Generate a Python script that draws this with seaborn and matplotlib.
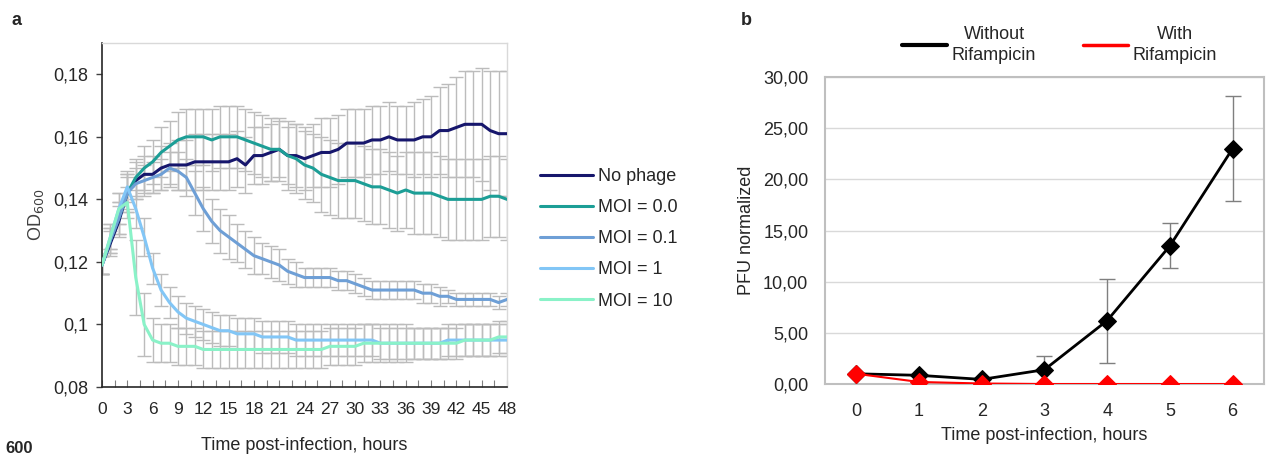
import numpy as np
import pandas as pd
import matplotlib
matplotlib.use("Agg")
import matplotlib.pyplot as plt
import seaborn as sns
from matplotlib.lines import Line2D
from matplotlib.ticker import MultipleLocator

# ---- panel a: OD600 over 48 h (hourly readings) ----
hours = list(range(49))

od_no_phage = [0.119, 0.126, 0.133, 0.142, 0.146, 0.148, 0.148, 0.150, 0.151, 0.151,
               0.151, 0.152, 0.152, 0.152, 0.152, 0.152, 0.153, 0.151, 0.154, 0.154,
               0.155, 0.156, 0.154, 0.154, 0.153, 0.154, 0.155, 0.155, 0.156, 0.158,
               0.158, 0.158, 0.159, 0.159, 0.160, 0.159, 0.159, 0.159, 0.160, 0.160,
               0.162, 0.162, 0.163, 0.164, 0.164, 0.164, 0.162, 0.161, 0.161]
od_moi_00 = [0.119, 0.127, 0.134, 0.142, 0.147, 0.150, 0.152, 0.155, 0.157, 0.159,
             0.160, 0.160, 0.160, 0.159, 0.160, 0.160, 0.160, 0.159, 0.158, 0.157,
             0.156, 0.156, 0.154, 0.153, 0.151, 0.150, 0.148, 0.147, 0.146, 0.146,
             0.146, 0.145, 0.144, 0.144, 0.143, 0.142, 0.143, 0.142, 0.142, 0.142,
             0.141, 0.140, 0.140, 0.140, 0.140, 0.140, 0.141, 0.141, 0.140]
od_moi_01 = [0.119, 0.127, 0.134, 0.142, 0.145, 0.146, 0.147, 0.148, 0.150, 0.149,
             0.147, 0.142, 0.137, 0.133, 0.130, 0.128, 0.126, 0.124, 0.122, 0.121,
             0.120, 0.119, 0.117, 0.116, 0.115, 0.115, 0.115, 0.115, 0.114, 0.114,
             0.113, 0.112, 0.111, 0.111, 0.111, 0.111, 0.111, 0.111, 0.110, 0.110,
             0.109, 0.109, 0.108, 0.108, 0.108, 0.108, 0.108, 0.107, 0.108]
od_moi_1 = [0.119, 0.128, 0.137, 0.144, 0.137, 0.128, 0.118, 0.111, 0.107, 0.104,
            0.102, 0.101, 0.100, 0.099, 0.098, 0.098, 0.097, 0.097, 0.097, 0.096,
            0.096, 0.096, 0.096, 0.095, 0.095, 0.095, 0.095, 0.095, 0.095, 0.095,
            0.095, 0.095, 0.095, 0.094, 0.094, 0.094, 0.094, 0.094, 0.094, 0.094,
            0.094, 0.095, 0.095, 0.095, 0.095, 0.095, 0.095, 0.095, 0.095]
od_moi_10 = [0.119, 0.128, 0.137, 0.139, 0.115, 0.100, 0.095, 0.094, 0.094, 0.093,
             0.093, 0.093, 0.092, 0.092, 0.092, 0.092, 0.092, 0.092, 0.092, 0.092,
             0.092, 0.092, 0.092, 0.092, 0.092, 0.092, 0.092, 0.093, 0.093, 0.093,
             0.093, 0.094, 0.094, 0.094, 0.094, 0.094, 0.094, 0.094, 0.094, 0.094,
             0.094, 0.094, 0.094, 0.095, 0.095, 0.095, 0.095, 0.096, 0.096]

err_no_phage = [0.003, 0.004, 0.005, 0.006, 0.006, 0.006, 0.006, 0.007, 0.007, 0.008,
                0.008, 0.009, 0.009, 0.009, 0.009, 0.009, 0.009, 0.009, 0.009, 0.009,
                0.009, 0.009, 0.009, 0.010, 0.010, 0.010, 0.011, 0.011, 0.011, 0.011,
                0.011, 0.011, 0.011, 0.011, 0.011, 0.011, 0.011, 0.012, 0.012, 0.013,
                0.014, 0.015, 0.016, 0.017, 0.017, 0.018, 0.019, 0.020, 0.020]
err_moi_00 = [0.003, 0.004, 0.005, 0.006, 0.006, 0.007, 0.007, 0.008, 0.008, 0.009,
              0.009, 0.009, 0.009, 0.010, 0.010, 0.010, 0.010, 0.010, 0.010, 0.010,
              0.010, 0.010, 0.011, 0.011, 0.011, 0.011, 0.012, 0.012, 0.012, 0.012,
              0.012, 0.012, 0.012, 0.012, 0.012, 0.012, 0.012, 0.013, 0.013, 0.013,
              0.013, 0.013, 0.013, 0.013, 0.013, 0.013, 0.013, 0.013, 0.013]
err_moi_01 = [0.003, 0.004, 0.005, 0.005, 0.005, 0.005, 0.005, 0.005, 0.005, 0.006,
              0.006, 0.007, 0.007, 0.007, 0.007, 0.007, 0.006, 0.006, 0.006, 0.005,
              0.005, 0.005, 0.004, 0.004, 0.003, 0.003, 0.003, 0.003, 0.003, 0.003,
              0.003, 0.003, 0.003, 0.003, 0.003, 0.003, 0.003, 0.003, 0.003, 0.003,
              0.003, 0.002, 0.002, 0.002, 0.002, 0.002, 0.002, 0.002, 0.002]
err_moi_1 = [0.003, 0.004, 0.005, 0.005, 0.006, 0.006, 0.005, 0.005, 0.005, 0.005,
             0.005, 0.005, 0.005, 0.005, 0.005, 0.005, 0.005, 0.005, 0.005, 0.005,
             0.005, 0.005, 0.005, 0.005, 0.005, 0.005, 0.005, 0.005, 0.005, 0.005,
             0.005, 0.005, 0.005, 0.005, 0.005, 0.005, 0.005, 0.005, 0.005, 0.005,
             0.005, 0.005, 0.005, 0.005, 0.005, 0.005, 0.005, 0.005, 0.005]
err_moi_10 = [0.003, 0.004, 0.005, 0.005, 0.012, 0.010, 0.007, 0.006, 0.006, 0.006,
              0.006, 0.006, 0.006, 0.006, 0.006, 0.006, 0.006, 0.006, 0.006, 0.006,
              0.006, 0.006, 0.006, 0.006, 0.006, 0.006, 0.006, 0.006, 0.006, 0.006,
              0.006, 0.006, 0.006, 0.006, 0.006, 0.006, 0.006, 0.005, 0.005, 0.005,
              0.005, 0.005, 0.005, 0.005, 0.005, 0.005, 0.005, 0.005, 0.005]

series_a = ["No phage", "MOI = 0.0", "MOI = 0.1", "MOI = 1", "MOI = 10"]
colors_a = ["#16166c", "#1c9e96", "#6e9fd6", "#82c6f6", "#8af2c8"]
yticks_a = [0.08, 0.10, 0.12, 0.14, 0.16, 0.18]
ylabels_a = ["0,08", "0,1", "0,12", "0,14", "0,16", "0,18"]

# ---- panel b: PFU ----
hours_b = [0, 1, 2, 3, 4, 5, 6]
pfu_without = [1.00, 0.85, 0.45, 1.40, 6.20, 13.50, 23.00]
pfu_without_err = [0.0, 0.0, 0.0, 1.35, 4.10, 2.20, 5.10]
pfu_with = [1.00, 0.20, 0.05, 0.00, 0.00, 0.00, 0.00]
series_b = ["Without\nRifampicin", "With\nRifampicin"]
colors_b = ["#000000", "#ff0000"]
yticks_b = [0, 5, 10, 15, 20, 25, 30]
ylabels_b = ["0,00", "5,00", "10,00", "15,00", "20,00", "25,00", "30,00"]

sns.set_theme(style="white")
plt.rcParams["font.family"] = ["Liberation Sans", "DejaVu Sans"]
plt.rcParams["font.size"] = 13

fig = plt.figure(figsize=(12.67, 4.57), dpi=100)
ax1 = fig.add_axes([0.0805, 0.1532, 0.3197, 0.7527])
ax2 = fig.add_axes([0.6511, 0.1597, 0.3465, 0.6718])

# panel a
od_lists = [od_no_phage, od_moi_00, od_moi_01, od_moi_1, od_moi_10]
err_lists = [err_no_phage, err_moi_00, err_moi_01, err_moi_1, err_moi_10]
df_a = pd.concat([pd.DataFrame({"hours": hours, "od": v, "series": s})
                  for s, v in zip(series_a, od_lists)], ignore_index=True)

for v, e in zip(od_lists, err_lists):
    ax1.errorbar(hours, v, yerr=e, fmt="none", ecolor="#bcbcbc", elinewidth=1.0,
                 capsize=5, capthick=1.0, zorder=1)
sns.lineplot(data=df_a, x="hours", y="od", hue="series", hue_order=series_a,
             palette=dict(zip(series_a, colors_a)), linewidth=2.2, ax=ax1,
             sort=False, zorder=3)
handles, labels = ax1.get_legend_handles_labels()
ax1.get_legend().remove()

ax1.set_xlim(0, 48)
ax1.set_ylim(0.08, 0.19)
ax1.set_yticks(yticks_a)
ax1.set_yticklabels(ylabels_a)
ax1.xaxis.set_major_locator(MultipleLocator(3))
ax1.xaxis.set_minor_locator(MultipleLocator(1.5))
ax1.tick_params(axis="y", direction="out", length=4, width=1, color="#404040",
                left=True, pad=6, labelsize=13, labelcolor="#262626")
ax1.tick_params(axis="x", which="both", direction="in", length=5, width=0.8,
                color="#808080", bottom=True, pad=11, labelsize=12.5, labelcolor="#262626")
ax1.set_xlabel("Time post-infection, hours", fontsize=13, labelpad=14, color="#262626")
ax1.set_ylabel("OD$_{600}$", fontsize=13, labelpad=5, color="#404040")
for side in ["top", "right"]:
    ax1.spines[side].set_color("#d9d9d9")
    ax1.spines[side].set_linewidth(1)
for side in ["left", "bottom"]:
    ax1.spines[side].set_color("#262626")
    ax1.spines[side].set_linewidth(1.2)

fig.legend(handles, labels, loc="upper left", bbox_to_anchor=(0.4265, 0.632),
           frameon=False, fontsize=13, handlelength=2.9, handletextpad=0.3,
           labelspacing=0.78, borderpad=0, borderaxespad=0)

# panel b
df_b = pd.concat([
    pd.DataFrame({"hours": hours_b, "pfu": pfu_without, "series": series_b[0]}),
    pd.DataFrame({"hours": hours_b, "pfu": pfu_with, "series": series_b[1]}),
], ignore_index=True)

ax2.yaxis.grid(True, color="#d9d9d9", linewidth=1)
ax2.set_axisbelow(True)
ax2.errorbar(hours_b, pfu_without, yerr=pfu_without_err, fmt="none", ecolor="#7f7f7f",
             elinewidth=1, capsize=6, capthick=1, zorder=2)
sns.lineplot(data=df_b[df_b["series"] == series_b[0]], x="hours", y="pfu",
             color=colors_b[0], linewidth=2, marker="D", markersize=9,
             markeredgecolor=colors_b[0], ax=ax2, zorder=3)
sns.lineplot(data=df_b[df_b["series"] == series_b[1]], x="hours", y="pfu",
             color=colors_b[1], linewidth=1.5, marker="D", markersize=9,
             markeredgecolor=colors_b[1], ax=ax2, zorder=4)

ax2.set_xlim(-0.5, 6.5)
ax2.set_ylim(0, 30)
ax2.set_xticks(hours_b)
ax2.set_yticks(yticks_b)
ax2.set_yticklabels(ylabels_b)
ax2.tick_params(axis="both", length=0, labelsize=13, labelcolor="#262626")
ax2.tick_params(axis="y", pad=12)
ax2.tick_params(axis="x", pad=14)
ax2.set_xlabel("Time post-infection, hours", fontsize=13, labelpad=5, color="#262626")
ax2.set_ylabel("PFU normalized", fontsize=13, labelpad=6, color="#262626")
for side in ax2.spines:
    ax2.spines[side].set_color("#bfbfbf")
    ax2.spines[side].set_linewidth(1.5)

leg_handles = [Line2D([0], [0], color=colors_b[0], linewidth=3),
               Line2D([0], [0], color=colors_b[1], linewidth=2.5)]
leg_b = fig.legend(leg_handles, series_b, loc="center", bbox_to_anchor=(0.8365, 0.902),
                   ncol=2, frameon=False, fontsize=13, handlelength=2.45,
                   handletextpad=0.3, columnspacing=2.6, borderpad=0)
for t in leg_b.get_texts():
    t.set_multialignment("center")
    t.set_linespacing(1.35)
    t.set_color("#262626")

fig.text(0.009, 0.945, "a", fontsize=13, fontweight="bold")
fig.text(0.585, 0.945, "b", fontsize=13, fontweight="bold")
fig.text(0.004, 0.002, "600", fontsize=12, fontweight="bold", va="bottom")

fig.savefig("out.png", dpi=100)
